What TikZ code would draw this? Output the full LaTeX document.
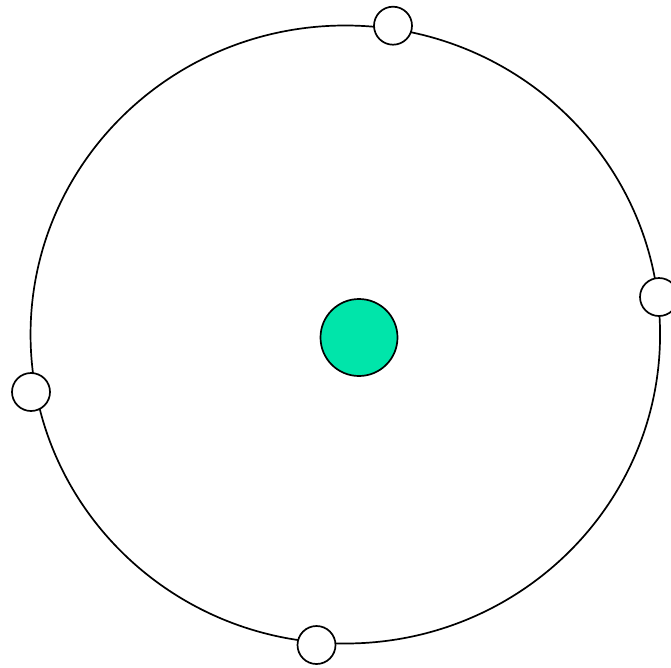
\documentclass[tikz,border=0pt]{standalone}
\usetikzlibrary{shapes.geometric}
\definecolor{core}{RGB}{0,229,170}
\begin{document}
\begin{tikzpicture}[x=1pt,y=-1pt,
  ring/.style={draw=black,line width=1.7pt,ellipse,inner sep=0pt,minimum width=629.5pt,minimum height=618pt},
  sat/.style={draw=black,fill=white,line width=1.7pt,circle,inner sep=0pt,minimum size=38pt},
  nucleus/.style={draw=black,fill=core,line width=1.7pt,circle,inner sep=0pt,minimum size=77pt}]
\useasboundingbox (0,0) rectangle (671,667);
\node[ring] (orbit) at (345.3,334.5) {};
\node[nucleus] (center) at (359,337.5) {};
\node[sat] (top) at (393,25.7) {};
\node[sat] (right) at (659,297) {};
\node[sat] (left) at (31,392) {};
\node[sat] (bottom) at (316.5,645) {};
\end{tikzpicture}
\end{document}
